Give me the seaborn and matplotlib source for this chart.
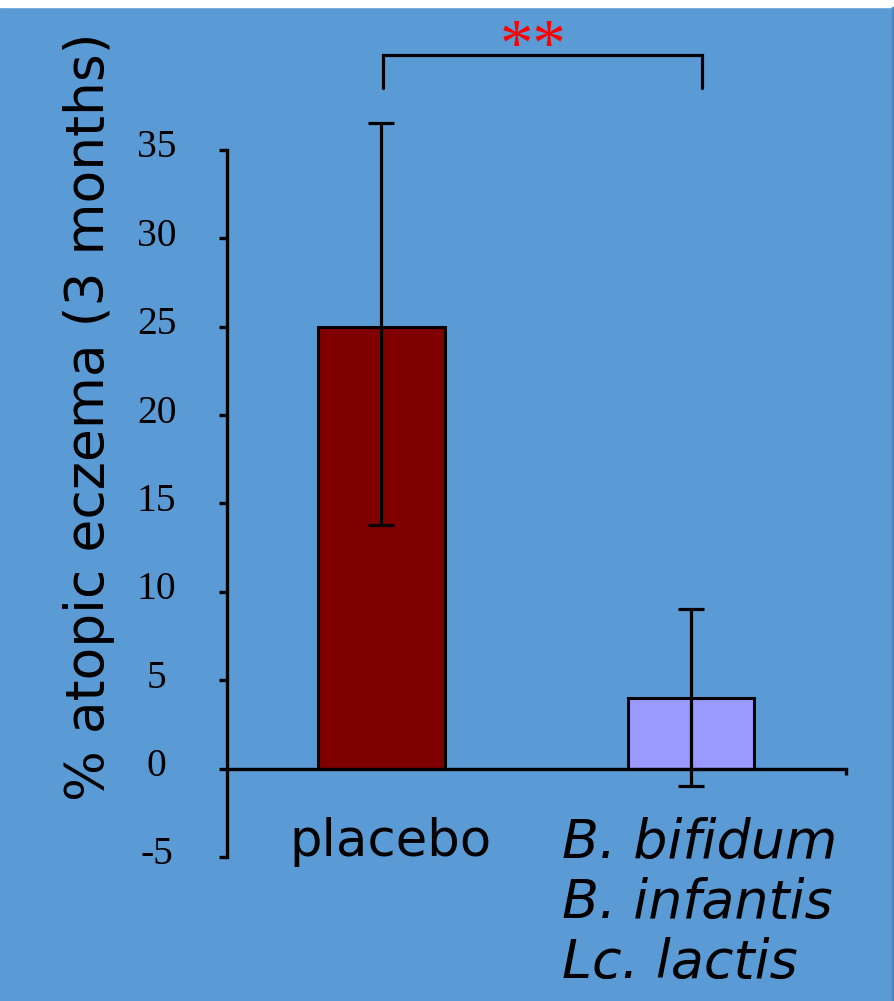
import matplotlib
matplotlib.use("Agg")
import matplotlib.pyplot as plt
import matplotlib.transforms as mtransforms
from matplotlib.patches import Rectangle
import seaborn as sns
import pandas as pd

# ---- data ----
categories = ["placebo", "B. bifidum\nB. infantis\nLc. lactis"]
values = [25.0, 4.0]
err_upper = [36.5, 9.05]   # upper end of error bar
err_lower = [13.8, -1.0]   # lower end of error bar
bar_colors = ["#800000", "#9999ff"]
y_ticks = [-5, 0, 5, 10, 15, 20, 25, 30, 35]
ylabel = "% atopic eczema (3 months)"
sig_text = "**"
sig_x = 0.491
sig_y = 39.8
bracket_x = [0.005, 0.005, 1.035, 1.035]
bracket_y = [38.5, 40.4, 40.4, 38.5]

BG = "#5b9bd5"

sns.set_style("ticks")
plt.rcParams["font.family"] = ["DejaVu Sans"]
for k in ["text.color", "axes.edgecolor", "xtick.color", "ytick.color",
          "axes.labelcolor"]:
    plt.rcParams[k] = "black"

fig = plt.figure(figsize=(8.95, 10.01), dpi=100, facecolor=BG)
ax = fig.add_axes([0.25335, 0.14386, 0.69162, 0.70629])
ax.set_facecolor("none")

df = pd.DataFrame({"group": categories, "value": values})
sns.barplot(data=df, x="group", y="value", hue="group", palette=bar_colors,
            width=0.41, edgecolor="black", linewidth=2.2, errorbar=None,
            legend=False, ax=ax, saturation=1)

lower = [v - l for v, l in zip(values, err_lower)]
upper = [u - v for v, u in zip(values, err_upper)]
eb = ax.errorbar(x=list(range(len(values))), y=values, yerr=[lower, upper],
                 fmt="none", ecolor="black", elinewidth=2.3, capsize=9.7,
                 capthick=2.3, zorder=3)
for coll in eb.get_children():
    coll.set_clip_on(False)

ax.set_xlim(-0.5, 1.5)
ax.set_ylim(-5, 35)
ax.set_yticks(y_ticks)
ax.set_yticklabels([str(t) for t in y_ticks])

for s in ["top", "right"]:
    ax.spines[s].set_visible(False)
ax.spines["left"].set_linewidth(2.4)
ax.spines["bottom"].set_linewidth(2.4)
ax.spines["bottom"].set_position(("data", 0))

ax.tick_params(axis="y", direction="out", length=6, width=2.4, pad=44.5,
               labelsize=28.5, colors="black")
for lab in ax.get_yticklabels():
    lab.set_fontfamily("Liberation Serif")
    lab.set_horizontalalignment("center")
    lab.set_transform(lab.get_transform() +
                      mtransforms.ScaledTranslation(0, 0.065, fig.dpi_scale_trans))

ax.tick_params(axis="x", which="major", length=0, pad=34.5, labelsize=37,
               colors="black")
ax.set_xticks([1.5], minor=True)
ax.tick_params(axis="x", which="minor", direction="out", length=4, width=2.4,
               colors="black")
xl = ax.get_xticklabels()
xl[1].set_fontstyle("italic")
xl[1].set_fontsize(38.8)
xl[1].set_multialignment("left")
xl[1].set_linespacing(1.2)
for lab, dx in zip(xl, [0.09, 0.085]):
    lab.set_transform(lab.get_transform() +
                      mtransforms.ScaledTranslation(dx, 0, fig.dpi_scale_trans))

ax.set_xlabel("")
ax.set_ylabel(ylabel, fontsize=38.5, color="black")
ax.yaxis.set_label_coords(-0.1805, 0.623)

# significance bracket
ax.plot(bracket_x, bracket_y, color="black", lw=2.3, clip_on=False,
        solid_joinstyle="miter")
ax.text(sig_x, sig_y, sig_text, color="#ff0000", fontsize=48,
        fontfamily="Liberation Serif", ha="center", va="baseline",
        clip_on=False)

# frame details of the original screenshot
fig.patches.append(Rectangle((0, 1 - 7 / 1001), 1, 7 / 1001,
                             transform=fig.transFigure, color="white",
                             zorder=0))
fig.patches.append(Rectangle((892 / 895, 0), 1.5 / 895, 1 - 7 / 1001,
                             transform=fig.transFigure, color="#4a86bd",
                             zorder=0))

fig.savefig("out.png", dpi=100, facecolor=BG)
